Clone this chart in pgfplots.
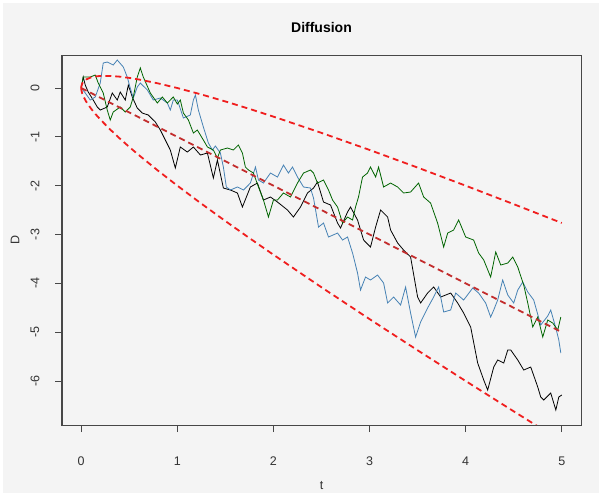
\documentclass[border=0pt]{standalone}
\usepackage{fontspec}
\setmainfont{Liberation Sans}
\usepackage{pgfplots}
\pgfplotsset{compat=1.18}

\definecolor{bgpanel}{RGB}{244,244,244}
\definecolor{steel}{RGB}{70,130,180}
\definecolor{dgreen}{RGB}{0,100,0}
\definecolor{envred}{RGB}{240,30,30}
\definecolor{meanred}{RGB}{195,45,45}

\begin{document}
\begin{tikzpicture}[x=1pt,y=1pt]
\fill[white] (0,0) rectangle (602,496);
\fill[bgpanel] (3,3) rectangle (599,493);
\begin{axis}[
  name=main,
  at={(62pt,71pt)}, anchor=south west,
  scale only axis, width=519pt, height=370pt,
  xmin=-0.2, xmax=5.2, ymin=-6.901, ymax=0.676,
  axis line style={black!72, line width=1pt},
  tick align=outside, xtick pos=bottom, ytick pos=left,
  major tick length=7pt,
  every tick/.style={black!72, line width=1pt},
  xtick={0,1,2,3,4,5}, xticklabels={0,1,2,3,4,5},
  ytick={-6,-5,-4,-3,-2,-1,0}, yticklabels={-6,-5,-4,-3,-2,-1,0},
  tick label style={font=\fontsize{12.5}{13}\selectfont, text=black!80},
  xticklabel style={anchor=center}, xticklabel shift=29pt,
  yticklabel style={rotate=90, anchor=center}, yticklabel shift=20pt,
  title={Diffusion},
  title style={font=\bfseries\fontsize{14}{14}\selectfont, at={(axis description cs:0.5,1)}, anchor=center, yshift=22pt},
  xlabel={t},
  xlabel style={font=\fontsize{12.5}{13}\selectfont, text=black!80, at={(axis description cs:0.5,0)}, anchor=center, yshift=-61pt},
  ylabel={D},
  ylabel style={font=\fontsize{12.5}{13}\selectfont, text=black!80, at={(axis description cs:-0.0906,0.5)}, anchor=center},
  clip=true,
]
% sample path 1
\addplot[black, line width=0.8pt] coordinates {
(0,0)(0.021,0.225)(0.042,0.061)(0.073,-0.082)(0.125,-0.246)(0.167,-0.389)(0.198,-0.451)
(0.271,-0.389)(0.323,-0.102)(0.375,-0.246)(0.406,-0.082)(0.458,-0.246)(0.490,0.061)
(0.531,-0.184)(0.583,-0.410)(0.635,-0.512)(0.698,-0.553)(0.771,-0.696)(0.823,-0.860)
(0.875,-1.065)(0.927,-1.270)(0.979,-1.638)(1.031,-1.208)(1.104,-1.311)(1.167,-1.208)
(1.240,-1.372)(1.313,-1.331)(1.375,-1.843)(1.417,-1.474)(1.479,-2.048)(1.552,-2.089)
(1.625,-2.150)(1.677,-2.437)(1.760,-2.027)(1.833,-1.946)(1.896,-2.294)(1.969,-2.232)
(2.042,-2.335)(2.146,-2.498)(2.208,-2.642)(2.281,-2.437)(2.354,-2.150)(2.417,-2.048)
(2.458,-1.925)(2.521,-2.335)(2.594,-2.396)(2.667,-2.765)(2.698,-2.867)(2.771,-2.539)
(2.802,-2.437)(2.875,-2.703)(2.938,-3.113)(3.010,-3.256)(3.063,-2.847)(3.115,-2.498)
(3.188,-2.642)(3.219,-2.908)(3.292,-3.174)(3.354,-3.318)(3.427,-3.461)(3.500,-4.280)
(3.531,-4.403)(3.604,-4.198)(3.667,-4.075)(3.740,-4.280)(3.844,-4.198)(3.917,-4.403)
(3.979,-4.608)(4.052,-4.894)(4.125,-5.632)(4.188,-5.980)(4.229,-6.185)(4.292,-5.714)
(4.333,-5.570)(4.396,-5.632)(4.438,-5.365)(4.469,-5.365)(4.542,-5.570)(4.604,-5.775)
(4.677,-5.714)(4.750,-6.123)(4.781,-6.328)(4.813,-6.389)(4.885,-6.246)(4.938,-6.594)
(4.969,-6.328)(5.000,-6.287)
};
% sample path 2
\addplot[steel, line width=0.8pt] coordinates {
(0,0)(0.042,-0.102)(0.094,-0.246)(0.146,-0.184)(0.198,0.102)(0.229,0.512)(0.271,0.532)
(0.333,0.471)(0.375,0.573)(0.438,0.430)(0.479,0.225)(0.510,0)(0.542,-0.205)(0.583,0.020)
(0.615,0.102)(0.688,-0.041)(0.750,-0.246)(0.823,-0.205)(0.896,-0.307)(0.927,-0.451)
(0.958,-0.246)(1.000,-0.246)(1.063,-0.614)(1.135,-0.553)(1.167,-0.246)(1.188,-0.143)
(1.219,-0.451)(1.271,-0.799)(1.323,-1.126)(1.365,-1.270)(1.396,-1.188)(1.448,-1.331)
(1.479,-1.618)(1.510,-2.027)(1.552,-2.089)(1.625,-2.027)(1.688,-2.089)(1.760,-1.946)
(1.813,-1.618)(1.844,-1.884)(1.896,-1.946)(1.969,-1.741)(2.042,-1.823)(2.104,-1.577)
(2.156,-1.741)(2.198,-1.618)(2.250,-1.823)(2.313,-2.027)(2.385,-2.048)(2.417,-2.253)
(2.469,-2.847)(2.521,-2.765)(2.573,-3.051)(2.667,-2.970)(2.719,-3.113)(2.771,-3.051)
(2.823,-3.379)(2.875,-3.789)(2.906,-4.137)(2.958,-3.871)(3.010,-3.932)(3.083,-3.830)
(3.146,-3.993)(3.188,-4.403)(3.250,-4.280)(3.323,-4.444)(3.375,-4.075)(3.427,-4.608)
(3.479,-5.099)(3.531,-4.792)(3.604,-4.505)(3.667,-4.280)(3.719,-4.075)(3.771,-4.587)
(3.844,-4.546)(3.896,-4.198)(3.979,-4.342)(4.073,-4.096)(4.135,-4.198)(4.208,-4.403)
(4.260,-4.690)(4.292,-4.546)(4.333,-4.342)(4.385,-3.932)(4.438,-4.239)(4.500,-4.403)
(4.542,-4.137)(4.594,-3.973)(4.646,-4.178)(4.708,-4.342)(4.781,-4.853)(4.854,-4.669)
(4.885,-4.546)(4.938,-4.915)(4.969,-5.161)(4.990,-5.427)
};
% sample path 3
\addplot[dgreen, line width=0.8pt] coordinates {
(0,0)(0.021,0.225)(0.094,0.225)(0.146,0.266)(0.177,0.102)(0.229,-0.102)(0.271,-0.451)
(0.302,-0.655)(0.333,-0.491)(0.406,-0.389)(0.458,-0.491)(0.510,-0.389)(0.542,-0.184)
(0.583,0.225)(0.615,0.410)(0.646,0.225)(0.719,-0.102)(0.792,-0.307)(0.844,-0.184)
(0.896,-0.307)(0.958,-0.184)(1.000,-0.328)(1.031,-0.246)(1.063,-0.512)(1.115,-0.655)
(1.167,-0.922)(1.208,-0.860)(1.271,-1.065)(1.313,-1.208)(1.375,-1.270)(1.417,-1.434)
(1.448,-1.270)(1.521,-1.229)(1.583,-1.270)(1.635,-1.167)(1.677,-1.331)(1.708,-1.618)
(1.740,-1.679)(1.792,-1.741)(1.844,-2.027)(1.896,-2.294)(1.948,-2.642)(2.000,-2.294)
(2.042,-2.294)(2.104,-2.150)(2.177,-2.232)(2.250,-1.946)(2.313,-1.741)(2.385,-1.679)
(2.417,-1.741)(2.458,-1.946)(2.521,-1.884)(2.573,-2.089)(2.615,-2.294)(2.667,-2.437)
(2.719,-2.765)(2.771,-2.642)(2.823,-2.703)(2.854,-2.437)(2.885,-2.232)(2.927,-1.823)
(2.979,-1.741)(3.010,-1.618)(3.063,-1.823)(3.094,-1.618)(3.146,-2.027)(3.219,-1.946)
(3.292,-2.027)(3.354,-2.150)(3.427,-2.130)(3.510,-1.946)(3.563,-2.232)(3.635,-2.355)
(3.708,-2.765)(3.771,-3.256)(3.813,-2.970)(3.875,-2.908)(3.927,-2.703)(4.000,-3.051)
(4.083,-3.113)(4.135,-3.379)(4.188,-3.522)(4.260,-3.871)(4.313,-3.358)(4.365,-3.625)
(4.438,-3.584)(4.490,-3.461)(4.542,-3.666)(4.604,-4.034)(4.646,-4.403)(4.698,-4.894)
(4.750,-4.690)(4.802,-5.099)(4.854,-4.751)(4.906,-4.813)(4.958,-4.956)(4.990,-4.690)
};
% mean and one-sigma envelope
\addplot[meanred, line width=1.8pt, dash pattern=on 6pt off 4pt] coordinates {(0,0)(5,-5)};
\addplot[envred, line width=1.8pt, dash pattern=on 6pt off 4pt] coordinates {
(0,0)(0.002,0.0427)(0.01,0.09)(0.02,0.1214)(0.05,0.1736)(0.1,0.2162)(0.15,0.2373)
(0.2,0.2472)(0.3,0.2477)(0.4,0.2325)(0.5,0.2071)(0.6,0.1746)(0.8,0.0944)(1,0)
(1.25,-0.132)(1.5,-0.2753)(1.75,-0.4271)(2,-0.5858)(2.5,-0.9189)(3,-1.2679)
(3.5,-1.6292)(4,-2)(4.5,-2.3787)(5,-2.7639)
};
\addplot[envred, line width=1.8pt, dash pattern=on 6pt off 4pt] coordinates {
(0,0)(0.002,-0.0467)(0.01,-0.11)(0.02,-0.1614)(0.05,-0.2736)(0.1,-0.4162)(0.15,-0.5373)
(0.2,-0.6472)(0.3,-0.8477)(0.4,-1.0325)(0.5,-1.2071)(0.6,-1.3746)(0.8,-1.6944)(1,-2)
(1.25,-2.368)(1.5,-2.7247)(1.75,-3.0729)(2,-3.4142)(2.5,-4.0811)(3,-4.7321)
(3.5,-5.3708)(4,-6)(4.5,-6.6213)(5,-7.2361)
};
\end{axis}
% plot frame
\draw[black!72, line width=1pt] (main.south west) rectangle (main.north east);
\end{tikzpicture}
\end{document}
